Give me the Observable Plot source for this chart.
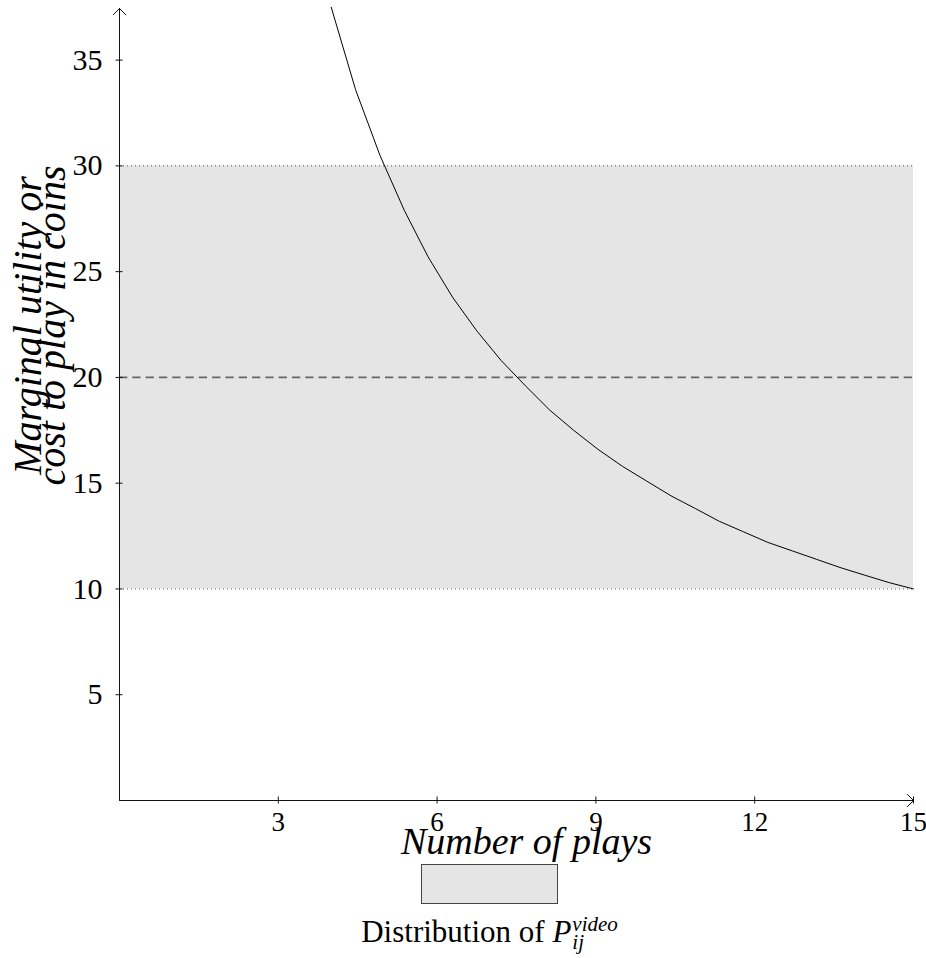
<!DOCTYPE html>
<html><head><meta charset="utf-8">
<script src="https://cdn.jsdelivr.net/npm/d3@7"></script>
<script src="https://cdn.jsdelivr.net/npm/@observablehq/plot@0.6"></script>
<style>
body{margin:0;background:#fff;}
#wrap{width:926px;}
#wrap svg{display:block;}
</style></head><body><div id="wrap"></div>
<script>
// Curve (number of plays -> marginal utility)
const plays   = [4.00, 4.46, 4.92, 5.38, 5.83, 6.29, 6.75, 7.21, 7.67, 8.13, 8.58, 9.04, 9.50, 9.96, 10.42, 10.88, 11.33, 11.79, 12.25, 12.71, 13.17, 13.63, 14.08, 14.54, 15.00];
const utility = [37.5, 33.6, 30.5, 27.9, 25.7, 23.8, 22.2, 20.8, 19.6, 18.45, 17.5, 16.6, 15.8, 15.1, 14.4, 13.8, 13.2, 12.7, 12.2, 11.8, 11.4, 11.0, 10.65, 10.3, 10.0];
const band = [10, 30];          // distribution range of P_ij^video
const costLine = [20];          // cost to play
const xTicks = [3, 6, 9, 12, 15];
const yTicks = [5, 10, 15, 20, 25, 30, 35];
const xDomain = [0, 15];
const yDomain = [0, 37.44];
const xLabel = "Number of plays";
const yLabel = ["Marginal utility or", "cost to play in coins"];
const legendText = "Distribution of ";
const legendVar = "P";
const legendSup = "video";
const legendSub = "ij";

const curve = plays.map((x, i) => ({x, y: utility[i]}));
const axesLines = [
  {x1: xDomain[0], y1: yDomain[0], x2: xDomain[1], y2: yDomain[0]},
  {x1: xDomain[0], y1: yDomain[0], x2: xDomain[0], y2: yDomain[1]}
];
const serif = "'Liberation Serif', 'DejaVu Serif', serif";

const chart = Plot.plot({
  width: 926, height: 862,
  marginLeft: 119, marginRight: 13, marginTop: 8, marginBottom: 62,
  x: {domain: xDomain, axis: null},
  y: {domain: yDomain, axis: null},
  style: {fontFamily: serif, background: "white", color: "black"},
  marks: [
    Plot.rect([band], {y1: d => d[0], y2: d => d[1], fill: "#e5e5e5"}),
    Plot.ruleY(band, {stroke: "#555", strokeDasharray: "1,3", strokeWidth: 1}),
    Plot.ruleY(costLine, {stroke: "#666", strokeDasharray: "8.3,5", strokeWidth: 1.8}),
    Plot.line(curve, {x: "x", y: "y", stroke: "black", strokeWidth: 1}),
    Plot.arrow(axesLines, {x1: "x1", y1: "y1", x2: "x2", y2: "y2", stroke: "#111", strokeWidth: 1, headLength: 13, headAngle: 90}),
    Plot.axisY(yTicks, {anchor: "left", label: null, tickSize: 7, dx: 3.5, tickPadding: 13.5, fontSize: 30, stroke: "#111", fill: "black"}),
    Plot.axisX(xTicks, {anchor: "bottom", label: null, tickSize: 7, dy: -3.5, tickPadding: 8, fontSize: 27, stroke: "#111", fill: "black"}),
    Plot.text([xLabel], {text: d => d, frameAnchor: "bottom", dx: 10, dy: 53, lineAnchor: "bottom", fontSize: 38, fontStyle: "italic", fill: "black"}),
    Plot.text([yLabel.join("\n")], {text: d => d, frameAnchor: "left", rotate: -90, dx: -55, dy: -79, lineAnchor: "bottom", lineHeight: 0.6, textAnchor: "middle", fontSize: 40, fontStyle: "italic", fill: "black"})
  ]
});
document.getElementById("wrap").appendChild(chart);

// Legend below the chart
const ns = "http://www.w3.org/2000/svg";
const ff = serif.replace(/'/g, "&quot;");
const leg = document.createElementNS(ns, "svg");
leg.setAttribute("width", 926);
leg.setAttribute("height", 96);
leg.innerHTML = `
  <rect x="421.5" y="2.5" width="136" height="39" fill="#e5e5e5" stroke="#444" stroke-width="1"/>
  <text id="lgMain" x="0" y="80" font-family="${ff}" font-size="31" fill="black">${legendText}<tspan font-style="italic">${legendVar}</tspan></text>
  <text id="lgSup" x="0" y="69" font-family="${ff}" font-size="21" font-style="italic" fill="black">${legendSup}</text>
  <text id="lgSub" x="0" y="87" font-family="${ff}" font-size="21" font-style="italic" fill="black">${legendSub}</text>`;
document.getElementById("wrap").appendChild(leg);
const mainEl = leg.querySelector("#lgMain"), supEl = leg.querySelector("#lgSup"), subEl = leg.querySelector("#lgSub");
const wMain = mainEl.getComputedTextLength(), wSup = supEl.getComputedTextLength();
const total = wMain + 1 + wSup;
const start = 489.5 - total / 2;
mainEl.setAttribute("x", start);
supEl.setAttribute("x", start + wMain + 1);
subEl.setAttribute("x", start + wMain + 1);
</script></body></html>
